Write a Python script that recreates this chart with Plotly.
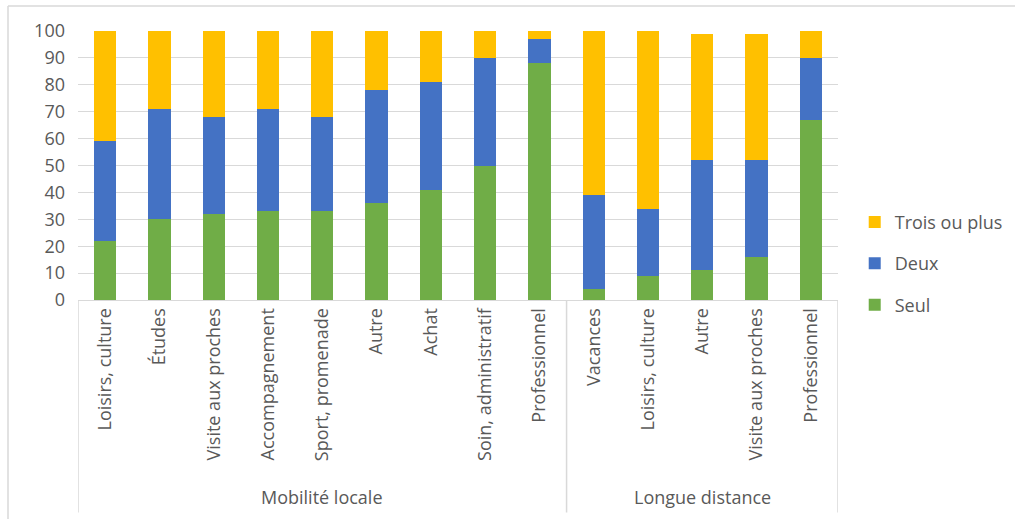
import plotly.graph_objects as go

group_names = ["Mobilité locale", "Longue distance"]
group_sizes = [9, 5]
categories = ["Loisirs, culture", "Études", "Visite aux proches", "Accompagnement",
              "Sport, promenade", "Autre", "Achat", "Soin, administratif", "Professionnel",
              "Vacances", "Loisirs, culture", "Autre", "Visite aux proches", "Professionnel"]
seul = [22, 30, 32, 33, 33, 36, 41, 50, 88, 4, 9, 11, 16, 67]
deux = [37, 41, 36, 38, 35, 42, 40, 40, 9, 35, 25, 41, 36, 23]
trois = [41, 29, 32, 29, 32, 22, 19, 10, 3, 61, 66, 47, 47, 10]
y_ticks = list(range(0, 101, 10))

font_fam = "Open Sans, Liberation Sans, sans-serif"
gray = "#595959"
light = "#d9d9d9"

xs = list(range(len(categories)))
fig = go.Figure()
fig.add_trace(go.Bar(x=xs, y=seul, name="Seul", marker_color="#70AD47", legendgroup="seul", legendrank=3))
fig.add_trace(go.Bar(x=xs, y=deux, name="Deux", marker_color="#4472C4", legendgroup="deux", legendrank=2))
fig.add_trace(go.Bar(x=xs, y=trois, name="Trois ou plus", marker_color="#FFC000", legendgroup="trois", legendrank=1))
fig.update_traces(marker_line_width=0)

fig.update_layout(
    barmode="stack",
    bargap=0.59,
    width=1015, height=519,
    margin=dict(l=78, r=177, t=31, b=219, autoexpand=False),
    paper_bgcolor="white", plot_bgcolor="white",
    font=dict(family=font_fam, size=18, color=gray),
    legend=dict(traceorder="grouped", x=1.022, xanchor="left", y=0.135, yanchor="middle",
                tracegroupgap=15, font=dict(size=18, color=gray)),
    showlegend=True,
)
fig.update_yaxes(range=[0, 100], tickvals=y_ticks, showgrid=True, gridcolor=light,
                 gridwidth=1, zeroline=False, showline=False, ticks="",
                 ticklabelstandoff=12, tickfont=dict(size=18, color=gray))
fig.update_xaxes(range=[-0.5, len(categories) - 0.5], tickvals=xs, ticktext=categories,
                 tickangle=-90, showline=True, linecolor=light, showgrid=False, zeroline=False,
                 ticks="", tickfont=dict(size=18, color=gray))

# group dividers and labels
start = 0
bounds = [-0.5]
for name, n in zip(group_names, group_sizes):
    fig.add_annotation(x=start + (n - 1) / 2, y=-0.732, xref="x", yref="paper", text=name,
                       showarrow=False, yanchor="middle", font=dict(size=18, color=gray))
    start += n
    bounds.append(start - 0.5)
for b in bounds:
    fig.add_shape(type="line", xref="x", yref="paper", x0=b, x1=b, y0=0, y1=-0.79,
                  line=dict(color=light, width=1.5))

# outer frame (top and left edges)
fig.add_shape(type="line", xref="paper", yref="paper", x0=-0.0921, x1=1.25, y0=1.093, y1=1.093,
              line=dict(color=light, width=1.5))
fig.add_shape(type="line", xref="paper", yref="paper", x0=-0.0921, x1=-0.0921, y0=1.093, y1=-0.9,
              line=dict(color=light, width=1.5))
fig.write_html("out.html")
